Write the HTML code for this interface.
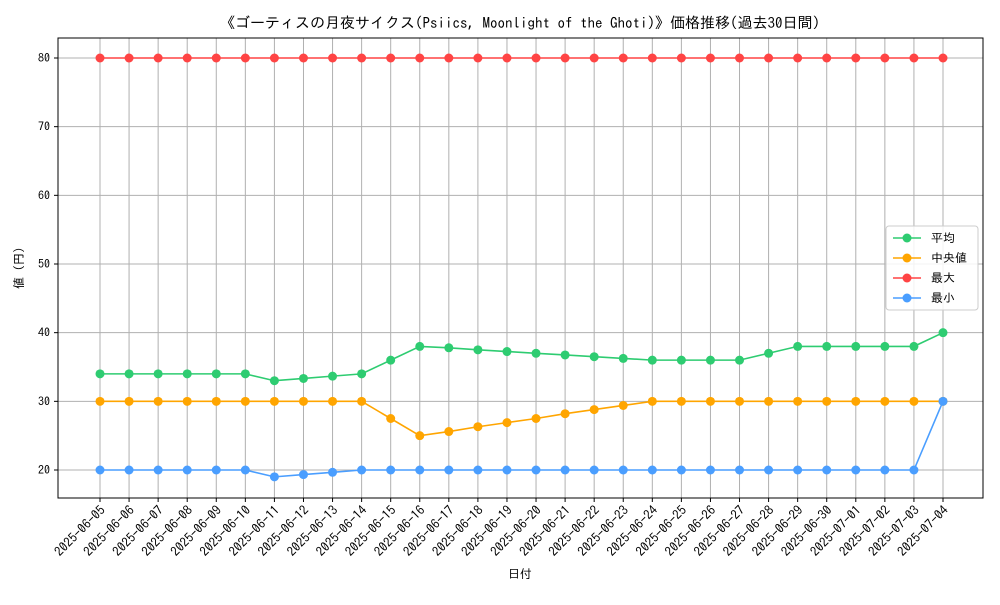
<!DOCTYPE html>
<html><head><meta charset="utf-8"><style>
body{margin:0;background:#fff;}
svg text{font-family:"IPAGothic","Liberation Sans","Noto Sans CJK JP",sans-serif;fill:#000;}
</style></head><body>
<svg id="chart" width="1000" height="600" xmlns="http://www.w3.org/2000/svg">
<rect width="1000" height="600" fill="#fff"/>
<text x="520" y="28" text-anchor="middle" font-size="15">《ゴーティスの月夜サイクス(Psiics, Moonlight of the Ghoti)》価格推移(過去30日間)</text>
<g id="grid"></g><g id="axes"></g><g id="series"></g>
<text x="520" y="578" text-anchor="middle" font-size="12">日付</text>
<text x="23" y="268" text-anchor="middle" font-size="12" transform="rotate(-90 23 268)">値 (円)</text>
<g id="legend"></g>
</svg>
<script>
const dates=["2025-06-05","2025-06-06","2025-06-07","2025-06-08","2025-06-09","2025-06-10","2025-06-11","2025-06-12","2025-06-13","2025-06-14","2025-06-15","2025-06-16","2025-06-17","2025-06-18","2025-06-19","2025-06-20","2025-06-21","2025-06-22","2025-06-23","2025-06-24","2025-06-25","2025-06-26","2025-06-27","2025-06-28","2025-06-29","2025-06-30","2025-07-01","2025-07-02","2025-07-03","2025-07-04"];
const avgVals=[34,34,34,34,34,34,33,33.33,33.67,34,36,38,37.8,37.5,37.25,37,36.75,36.5,36.25,36,36,36,36,37,38,38,38,38,38,40];
const medVals=[30,30,30,30,30,30,30,30,30,30,27.5,25,25.6,26.3,26.9,27.5,28.2,28.8,29.4,30,30,30,30,30,30,30,30,30,30,30];
const maxVals=[80,80,80,80,80,80,80,80,80,80,80,80,80,80,80,80,80,80,80,80,80,80,80,80,80,80,80,80,80,80];
const minVals=[20,20,20,20,20,20,19,19.33,19.67,20,20,20,20,20,20,20,20,20,20,20,20,20,20,20,20,20,20,20,20,30];
const yTicks=[20,30,40,50,60,70,80];
const seriesNames=["平均","中央値","最大","最小"];
const NS="http://www.w3.org/2000/svg";
const L=58,R=983,T=38,B=498;
const x=i=>100+i*(943-100)/(dates.length-1);
const y=v=>470-(v-20)*(470-58)/60;
function mk(tag,attrs,parent){const e=document.createElementNS(NS,tag);for(const k in attrs)e.setAttribute(k,attrs[k]);parent.appendChild(e);return e;}
const grid=document.getElementById('grid'),axes=document.getElementById('axes'),ser=document.getElementById('series');
dates.forEach((d,i)=>{
 const g=mk('line',{x1:x(i),x2:x(i),y1:T,y2:B,stroke:'#b0b0b0','stroke-width':1},grid);
 
 
 const t=mk('line',{x1:x(i),x2:x(i),y1:B,y2:B+4,stroke:'#000'},axes);
 
 
 const lb=mk('text',{x:x(i)+6,y:B+13,'text-anchor':'end','font-size':13,transform:`rotate(-45 ${x(i)+6} ${B+13})`},axes);
 lb.textContent=d;
 
 
});
yTicks.forEach(v=>{
 const g=mk('line',{x1:L,x2:R,y1:y(v),y2:y(v),stroke:'#b0b0b0','stroke-width':1},grid);
 
 
 const t=mk('line',{x1:L-4,x2:L,y1:y(v),y2:y(v),stroke:'#000'},axes);
 
 
 const lb=mk('text',{x:L-8,y:y(v)+4,'text-anchor':'end','font-size':12},axes);
 lb.textContent=v;
 
 
});
const frame=mk('rect',{x:L,y:T,width:R-L,height:B-T,fill:'none',stroke:'#000','stroke-width':1},axes);


const colors=["#2ecc71","#ffa500","#ff4444","#4a9eff"];
[avgVals,medVals,maxVals,minVals].forEach((vals,s)=>{
 const g=mk('g',{},ser);
 
 
 const p=mk('polyline',{points:vals.map((v,i)=>x(i)+','+y(v)).join(' '),fill:'none',stroke:colors[s],'stroke-width':1.6},g);
 
 
 vals.forEach((v,i)=>{
  const c=mk('circle',{cx:x(i),cy:y(v),r:4.5,fill:colors[s]},g);
  
  
 });
});
const lg=document.getElementById('legend');
mk('rect',{x:886,y:226,width:92,height:84,rx:3,fill:'#fff','fill-opacity':0.85,stroke:'#ccc'},lg);
seriesNames.forEach((n,s)=>{
 const yy=238+s*20;
 const e=mk('g',{},lg);
 
 
 mk('line',{x1:893,x2:921,y1:yy,y2:yy,stroke:colors[s],'stroke-width':1.6},e);
 mk('circle',{cx:907,cy:yy,r:4.5,fill:colors[s]},e);
 const t=mk('text',{x:931,y:yy+4,'font-size':12},e);
 t.textContent=n;
});
</script>
</body></html>
